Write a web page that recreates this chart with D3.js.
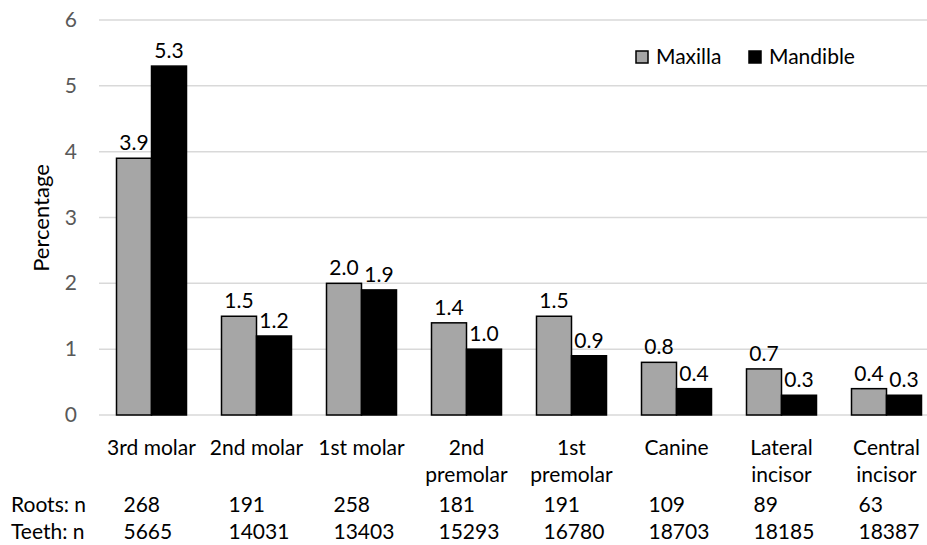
<!DOCTYPE html>
<html>
<head>
<meta charset="utf-8">
<script src="https://cdn.jsdelivr.net/npm/d3@7"></script>
<style>
  body { margin: 0; background: #fff; }
  text { font-family: Lato, "Open Sans", sans-serif; }
</style>
</head>
<body>
<div id="chart"></div>
<script>
const categories = [
  ["3rd molar"], ["2nd molar"], ["1st molar"], ["2nd", "premolar"],
  ["1st", "premolar"], ["Canine"], ["Lateral", "incisor"], ["Central", "incisor"]
];
const maxilla = [3.9, 1.5, 2.0, 1.4, 1.5, 0.8, 0.7, 0.4];
const mandible = [5.3, 1.2, 1.9, 1.0, 0.9, 0.4, 0.3, 0.3];
const roots_n = [268, 191, 258, 181, 191, 109, 89, 63];
const teeth_n = [5665, 14031, 13403, 15293, 16780, 18703, 18185, 18387];
const y_ticks = [0, 1, 2, 3, 4, 5, 6];

const width = 927;
const height = 545;
const fs = 21;

const svg = d3.select('#chart')
    .append('svg')
    .attr("width", width)
    .attr("height", height);

const ids = categories.map((c, i) => "c" + i);

const x = d3.scaleBand()
    .domain(ids)
    .range([99, 939])
    .paddingInner(0)
    .paddingOuter(0);

const x_sub = d3.scaleBand()
    .domain(["Maxilla", "Mandible"])
    .range([0, x.bandwidth()])
    .paddingInner(0)
    .paddingOuter(0.5);

const y = d3.scaleLinear()
    .domain([0, 6])
    .range([415, 20]);

// gridlines
svg.append("g")
    .selectAll("line")
    .data(y_ticks)
    .enter()
    .append("line")
    .attr("x1", 99)
    .attr("x2", width)
    .attr("y1", d => y(d))
    .attr("y2", d => y(d))
    .attr("stroke", "#d9d9d9")
    .attr("stroke-width", 1.5);

// y tick labels
svg.append("g")
    .selectAll("text")
    .data(y_ticks)
    .enter()
    .append("text")
    .attr("x", 77)
    .attr("y", d => y(d) + 7)
    .attr("text-anchor", "end")
    .attr("fill", "#595959")
    .attr("font-size", fs)
    .text(d => d);

svg.append("text")
    .attr("transform", "translate(49,218) rotate(-90)")
    .attr("text-anchor", "middle")
    .attr("font-size", 22)
    .attr("fill", "#000")
    .text("Percentage");

const series = [
  { key: "Maxilla", values: maxilla, fill: "#a6a6a6" },
  { key: "Mandible", values: mandible, fill: "#000000" }
];

series.forEach(s => {
  const g = svg.append("g");
  g.selectAll("rect")
      .data(s.values)
      .enter()
      .append("rect")
      .attr("x", (d, i) => x(ids[i]) + x_sub(s.key))
      .attr("y", d => y(d))
      .attr("width", x_sub.bandwidth())
      .attr("height", d => y(0) - y(d))
      .attr("fill", s.fill)
      .attr("stroke", "#000")
      .attr("stroke-width", 1.5);

  g.selectAll("text")
      .data(s.values)
      .enter()
      .append("text")
      .attr("x", (d, i) => x(ids[i]) + x_sub(s.key) + x_sub.bandwidth() / 2)
      .attr("y", d => y(d) - 8)
      .attr("text-anchor", "middle")
      .attr("font-size", fs)
      .attr("fill", "#000")
      .text(d => d.toFixed(1));
});

// category labels
const cat = svg.append("g")
    .selectAll("text")
    .data(categories)
    .enter()
    .append("text")
    .attr("x", (d, i) => x(ids[i]) + x.bandwidth() / 2)
    .attr("y", 455)
    .attr("text-anchor", "middle")
    .attr("font-size", fs)
    .attr("fill", "#000");
cat.selectAll("tspan")
    .data(d => d)
    .enter()
    .append("tspan")
    .attr("x", function () { return d3.select(this.parentNode).attr("x"); })
    .attr("dy", (d, i) => i === 0 ? 0 : 27)
    .text(d => d);

// n rows
const rows = [
  { label: "Roots: n", values: roots_n, y: 512 },
  { label: "Teeth: n", values: teeth_n, y: 539 }
];
rows.forEach(r => {
  svg.append("text")
      .attr("x", 11)
      .attr("y", r.y)
      .attr("font-size", fs)
      .attr("fill", "#000")
      .text(r.label);
  svg.append("g")
      .selectAll("text")
      .data(r.values)
      .enter()
      .append("text")
      .attr("x", (d, i) => x(ids[i]) + x.bandwidth() / 2 - 28)
      .attr("y", r.y)
      .attr("font-size", fs)
      .attr("fill", "#000")
      .text(d => d);
});

// legend
const legend = svg.append("g");
const legend_x = [636, 749];
series.forEach((s, i) => {
  legend.append("rect")
      .attr("x", legend_x[i])
      .attr("y", 51)
      .attr("width", 12)
      .attr("height", 12)
      .attr("fill", s.fill)
      .attr("stroke", "#000")
      .attr("stroke-width", 1.5);
  legend.append("text")
      .attr("x", legend_x[i] + 20)
      .attr("y", 64)
      .attr("font-size", fs)
      .attr("fill", "#000")
      .text(s.key);
});
</script>
</body>
</html>
